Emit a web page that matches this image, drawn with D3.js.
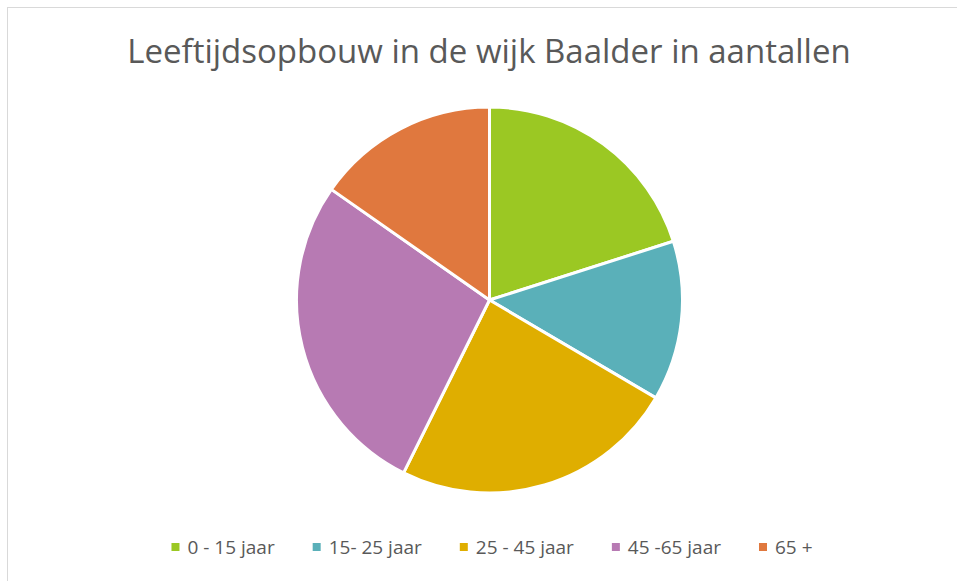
<!DOCTYPE html>
<html>
<head>
<meta charset="utf-8">
<script src="https://cdn.jsdelivr.net/npm/d3@7"></script>
<style>
  html, body { margin: 0; padding: 0; background: #fff; }
  svg { display: block; }
</style>
</head>
<body>
<svg id="chart" width="957" height="581"></svg>
<script>
const title = "Leeftijdsopbouw in de wijk Baalder in aantallen";
const categories = ["0 - 15 jaar", "15- 25 jaar", "25 - 45 jaar", "45 -65 jaar", "65 +"];
const values = [20.1, 13.4, 23.9, 27.4, 15.3];
const colors = ["#9bc823", "#5ab0b9", "#dfae00", "#b77ab3", "#e0783e"];

const W = 957, H = 581;
const svg = d3.select("#chart");

// chart frame
svg.append("rect")
  .attr("x", 7.5).attr("y", 7.5)
  .attr("width", W).attr("height", H)
  .attr("fill", "#fff")
  .attr("stroke", "#d9d9d9").attr("stroke-width", 1);

// title
svg.append("text")
  .attr("x", 489).attr("y", 63)
  .attr("text-anchor", "middle")
  .attr("font-family", "'Open Sans', sans-serif")
  .attr("font-size", 33)
  .attr("fill", "#595959")
  .text(title);

// pie
const cx = 489.5, cy = 300, r = 193;
const pie = d3.pie().sort(null).value(d => d);
const arc = d3.arc().innerRadius(0).outerRadius(r);
const color = d3.scaleOrdinal().domain(categories).range(colors);

svg.append("g")
  .attr("transform", `translate(${cx},${cy})`)
  .selectAll("path")
  .data(pie(values))
  .join("path")
  .attr("d", arc)
  .attr("fill", (d, i) => color(categories[i]))
  .attr("stroke", "#fff")
  .attr("stroke-width", 3)
  .attr("stroke-linejoin", "round");

// legend
const legend = svg.append("g");
const fs = 19;
const gap = 38;
const items = legend.selectAll("g").data(categories).join("g");
items.append("rect")
  .attr("width", 8).attr("height", 8)
  .attr("y", -4)
  .attr("fill", d => color(d));
items.append("text")
  .attr("x", 16).attr("y", 0)
  .attr("dy", "0.35em")
  .attr("font-family", "'Open Sans', sans-serif")
  .attr("font-size", fs)
  .attr("fill", "#595959")
  .text(d => d);

let xpos = 0;
const widths = [];
items.each(function() {
  const t = d3.select(this).select("text").node().getComputedTextLength();
  widths.push(16 + t);
});
items.attr("transform", (d, i) => {
  const x = xpos;
  xpos += widths[i] + gap;
  return `translate(${x},0)`;
});
const total = xpos - gap;
legend.attr("transform", `translate(${492 - total / 2},547)`);
</script>
</body>
</html>
